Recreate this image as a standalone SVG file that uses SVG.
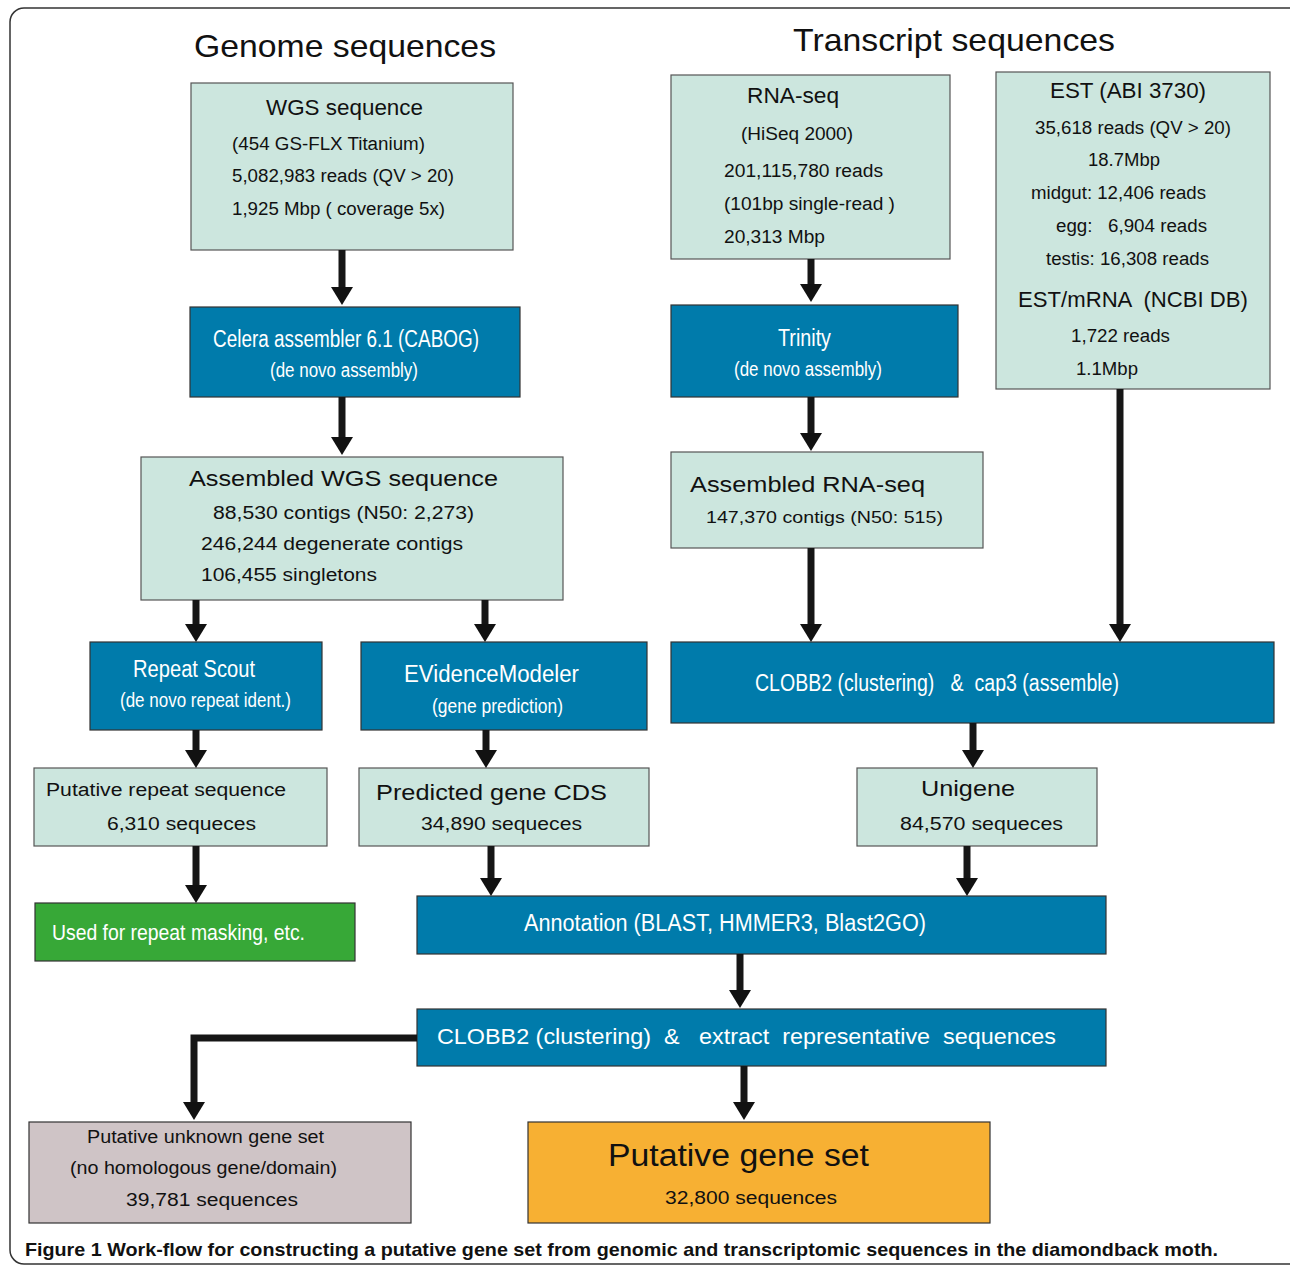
<svg xmlns="http://www.w3.org/2000/svg" width="1290" height="1267" viewBox="0 0 1290 1267">
<style>
.lt{fill:#cce6de;stroke:#555;stroke-width:1.2}
.bl{fill:#007bab;stroke:#333;stroke-width:1.2}
.gr{fill:#37a837;stroke:#333;stroke-width:1.2}
.pk{fill:#cfc4c6;stroke:#333;stroke-width:1.2}
.or{fill:#f7b033;stroke:#333;stroke-width:1.2}
text{font-family:"Liberation Sans",Arial,sans-serif;fill:#111}
.n{font-family:"Liberation Sans Narrow","Liberation Sans",Arial,sans-serif}
.w{fill:#fff}
.c{text-anchor:middle}
.cn line,.cn polyline{stroke:#161616;stroke-width:7;fill:none}
</style>
<defs>
<marker id="ah" markerUnits="userSpaceOnUse" viewBox="0 0 18 22" refX="1" refY="11" markerWidth="18" markerHeight="22" orient="auto"><path d="M0,0 L18,11 L0,22 z" fill="#111"/></marker>
</defs>
<rect x="10" y="8" width="1295" height="1256" rx="14" fill="#fff" stroke="#333" stroke-width="1.5"/>
<g id="titles">
<text x="194" y="57" font-size="32" textLength="302" lengthAdjust="spacingAndGlyphs">Genome sequences</text>
<text x="793" y="51" font-size="32" textLength="322" lengthAdjust="spacingAndGlyphs">Transcript sequences</text>
</g>
<g id="wgs">
<rect class="lt" x="191" y="83" width="322" height="167"/>
<text x="266" y="115" font-size="22" textLength="157" lengthAdjust="spacingAndGlyphs">WGS sequence</text>
<text x="232" y="150" font-size="18" textLength="193" lengthAdjust="spacingAndGlyphs">(454 GS-FLX Titanium)</text>
<text x="232" y="182" font-size="18" textLength="222" lengthAdjust="spacingAndGlyphs">5,082,983 reads (QV &gt; 20)</text>
<text x="232" y="215" font-size="18" textLength="213" lengthAdjust="spacingAndGlyphs">1,925 Mbp ( coverage 5x)</text>
</g>
<g id="celera">
<rect class="bl" x="190" y="307" width="330" height="90"/>
<text class="n w" x="213" y="347" font-size="23" textLength="266" lengthAdjust="spacingAndGlyphs">Celera assembler 6.1 (CABOG)</text>
<text class="n w" x="270" y="377" font-size="20" textLength="148" lengthAdjust="spacingAndGlyphs">(de novo assembly)</text>
</g>
<g id="asmwgs">
<rect class="lt" x="141" y="457" width="422" height="143"/>
<text x="189" y="486" font-size="22" textLength="309" lengthAdjust="spacingAndGlyphs">Assembled WGS sequence</text>
<text x="213" y="519" font-size="18" textLength="261" lengthAdjust="spacingAndGlyphs">88,530 contigs (N50: 2,273)</text>
<text x="201" y="550" font-size="18" textLength="262" lengthAdjust="spacingAndGlyphs">246,244 degenerate contigs</text>
<text x="201" y="581" font-size="18" textLength="176" lengthAdjust="spacingAndGlyphs">106,455 singletons</text>
</g>
<g id="repeatscout">
<rect class="bl" x="90" y="642" width="232" height="88"/>
<text class="n w" x="133" y="677" font-size="23" textLength="122" lengthAdjust="spacingAndGlyphs">Repeat Scout</text>
<text class="n w" x="120" y="707" font-size="20" textLength="171" lengthAdjust="spacingAndGlyphs">(de novo repeat ident.)</text>
</g>
<g id="evm">
<rect class="bl" x="361" y="642" width="286" height="88"/>
<text class="n w" x="404" y="682" font-size="23" textLength="175" lengthAdjust="spacingAndGlyphs">EVidenceModeler</text>
<text class="n w" x="432" y="713" font-size="20" textLength="131" lengthAdjust="spacingAndGlyphs">(gene prediction)</text>
</g>
<g id="putrepeat">
<rect class="lt" x="34" y="768" width="293" height="78"/>
<text x="46" y="796" font-size="18" textLength="240" lengthAdjust="spacingAndGlyphs">Putative repeat sequence</text>
<text x="107" y="830" font-size="18" textLength="149" lengthAdjust="spacingAndGlyphs">6,310 sequeces</text>
</g>
<g id="predcds">
<rect class="lt" x="359" y="768" width="290" height="78"/>
<text x="376" y="800" font-size="22" textLength="231" lengthAdjust="spacingAndGlyphs">Predicted gene CDS</text>
<text x="421" y="830" font-size="18" textLength="161" lengthAdjust="spacingAndGlyphs">34,890 sequeces</text>
</g>
<g id="masking">
<rect class="gr" x="35" y="903" width="320" height="58"/>
<text class="n w" x="52" y="940" font-size="22" textLength="253" lengthAdjust="spacingAndGlyphs">Used for repeat masking, etc.</text>
</g>
<g id="annotation">
<rect class="bl" x="417" y="896" width="689" height="58"/>
<text class="n w" x="524" y="931" font-size="23" textLength="402" lengthAdjust="spacingAndGlyphs">Annotation (BLAST, HMMER3, Blast2GO)</text>
</g>
<g id="clobbextract">
<rect class="bl" x="417" y="1009" width="689" height="57"/>
<text class="w" x="437" y="1044" font-size="22" textLength="619" lengthAdjust="spacingAndGlyphs" xml:space="preserve">CLOBB2 (clustering)  &amp;   extract  representative  sequences</text>
</g>
<g id="unknownset">
<rect class="pk" x="29" y="1122" width="382" height="101"/>
<text class="n" x="87" y="1143" font-size="18" textLength="237" lengthAdjust="spacingAndGlyphs">Putative unknown gene set</text>
<text class="n" x="70" y="1174" font-size="18" textLength="267" lengthAdjust="spacingAndGlyphs">(no homologous gene/domain)</text>
<text class="n" x="126" y="1206" font-size="18" textLength="172" lengthAdjust="spacingAndGlyphs">39,781 sequences</text>
</g>
<g id="geneset">
<rect class="or" x="528" y="1122" width="462" height="101"/>
<text class="n" x="608" y="1166" font-size="31" textLength="261" lengthAdjust="spacingAndGlyphs">Putative gene set</text>
<text class="n" x="665" y="1204" font-size="18" textLength="172" lengthAdjust="spacingAndGlyphs">32,800 sequences</text>
</g>
<g id="rnaseq">
<rect class="lt" x="671" y="75" width="279" height="184"/>
<text class="n" x="747" y="103" font-size="22" textLength="92" lengthAdjust="spacingAndGlyphs">RNA-seq</text>
<text class="n" x="741" y="140" font-size="18" textLength="112" lengthAdjust="spacingAndGlyphs">(HiSeq 2000)</text>
<text class="n" x="724" y="177" font-size="18" textLength="159" lengthAdjust="spacingAndGlyphs">201,115,780 reads</text>
<text class="n" x="724" y="210" font-size="18" textLength="171" lengthAdjust="spacingAndGlyphs">(101bp single-read )</text>
<text class="n" x="724" y="243" font-size="18" textLength="101" lengthAdjust="spacingAndGlyphs">20,313 Mbp</text>
</g>
<g id="trinity">
<rect class="bl" x="671" y="305" width="287" height="92"/>
<text class="n w" x="778" y="346" font-size="23" textLength="53" lengthAdjust="spacingAndGlyphs">Trinity</text>
<text class="n w" x="734" y="376" font-size="20" textLength="148" lengthAdjust="spacingAndGlyphs">(de novo assembly)</text>
</g>
<g id="asmrna">
<rect class="lt" x="671" y="452" width="312" height="96"/>
<text x="690" y="492" font-size="22" textLength="235" lengthAdjust="spacingAndGlyphs">Assembled RNA-seq</text>
<text x="706" y="523" font-size="17" textLength="237" lengthAdjust="spacingAndGlyphs">147,370 contigs (N50: 515)</text>
</g>
<g id="est">
<rect class="lt" x="996" y="72" width="274" height="317"/>
<text class="n" x="1050" y="98" font-size="22" textLength="156" lengthAdjust="spacingAndGlyphs">EST (ABI 3730)</text>
<text class="n" x="1035" y="134" font-size="18" textLength="196" lengthAdjust="spacingAndGlyphs">35,618 reads (QV &gt; 20)</text>
<text class="n" x="1088" y="166" font-size="18" textLength="72" lengthAdjust="spacingAndGlyphs">18.7Mbp</text>
<text class="n" x="1031" y="199" font-size="18" textLength="175" lengthAdjust="spacingAndGlyphs">midgut: 12,406 reads</text>
<text class="n" x="1056" y="232" font-size="18" textLength="151" lengthAdjust="spacingAndGlyphs" xml:space="preserve">egg:   6,904 reads</text>
<text class="n" x="1046" y="265" font-size="18" textLength="163" lengthAdjust="spacingAndGlyphs">testis: 16,308 reads</text>
<text class="n" x="1018" y="307" font-size="22" textLength="230" lengthAdjust="spacingAndGlyphs" xml:space="preserve">EST/mRNA  (NCBI DB)</text>
<text class="n" x="1071" y="342" font-size="18" textLength="99" lengthAdjust="spacingAndGlyphs">1,722 reads</text>
<text class="n" x="1076" y="375" font-size="18" textLength="62" lengthAdjust="spacingAndGlyphs">1.1Mbp</text>
</g>
<g id="clobbcap3">
<rect class="bl" x="671" y="642" width="603" height="81"/>
<text class="n w" x="755" y="691" font-size="23" textLength="364" lengthAdjust="spacingAndGlyphs" xml:space="preserve">CLOBB2 (clustering)   &amp;  cap3 (assemble)</text>
</g>
<g id="unigene">
<rect class="lt" x="857" y="768" width="240" height="78"/>
<text x="921" y="796" font-size="22" textLength="94" lengthAdjust="spacingAndGlyphs">Unigene</text>
<text x="900" y="830" font-size="18" textLength="163" lengthAdjust="spacingAndGlyphs">84,570 sequeces</text>
</g>
<g id="connectors" class="cn">
<line x1="342" y1="250" x2="342" y2="288" marker-end="url(#ah)"/>
<line x1="342" y1="397" x2="342" y2="438" marker-end="url(#ah)"/>
<line x1="196" y1="600" x2="196" y2="625" marker-end="url(#ah)"/>
<line x1="485" y1="600" x2="485" y2="625" marker-end="url(#ah)"/>
<line x1="196" y1="730" x2="196" y2="751" marker-end="url(#ah)"/>
<line x1="486" y1="730" x2="486" y2="751" marker-end="url(#ah)"/>
<line x1="196" y1="846" x2="196" y2="886" marker-end="url(#ah)"/>
<line x1="491" y1="846" x2="491" y2="879" marker-end="url(#ah)"/>
<line x1="740" y1="954" x2="740" y2="991" marker-end="url(#ah)"/>
<line x1="744" y1="1066" x2="744" y2="1103" marker-end="url(#ah)"/>
<polyline points="417,1038 194,1038 194,1103" marker-end="url(#ah)"/>
<line x1="811" y1="259" x2="811" y2="285" marker-end="url(#ah)"/>
<line x1="811" y1="397" x2="811" y2="434" marker-end="url(#ah)"/>
<line x1="811" y1="548" x2="811" y2="625" marker-end="url(#ah)"/>
<line x1="1120" y1="389" x2="1120" y2="625" marker-end="url(#ah)"/>
<line x1="973" y1="723" x2="973" y2="751" marker-end="url(#ah)"/>
<line x1="967" y1="846" x2="967" y2="879" marker-end="url(#ah)"/>
</g>
<g id="caption">
<text class="n" x="25" y="1256" font-size="19" font-weight="bold" textLength="1193" lengthAdjust="spacingAndGlyphs" fill="#222">Figure 1 Work-flow for constructing a putative gene set from genomic and transcriptomic sequences in the diamondback moth.</text>
</g>
</svg>
